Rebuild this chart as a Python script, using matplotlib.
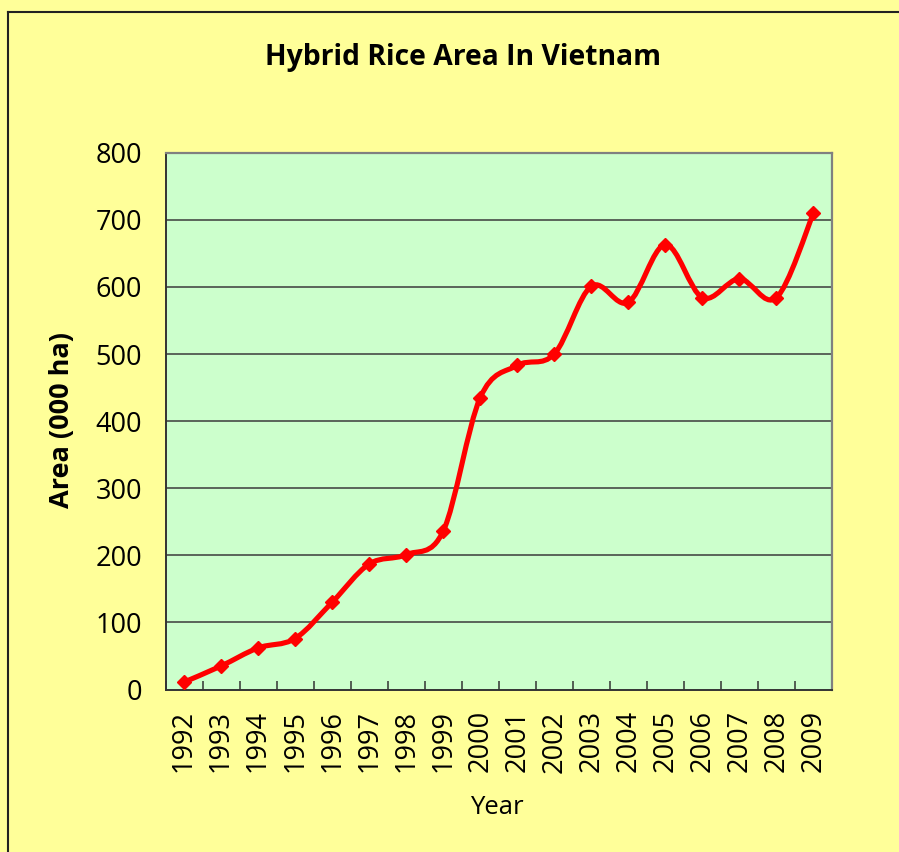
import matplotlib
matplotlib.use("Agg")
import matplotlib.pyplot as plt
from matplotlib.path import Path
from matplotlib.patches import PathPatch
from matplotlib.lines import Line2D

years = ["1992", "1993", "1994", "1995", "1996", "1997", "1998", "1999", "2000",
         "2001", "2002", "2003", "2004", "2005", "2006", "2007", "2008", "2009"]
area = [11, 35, 62, 76, 130, 187, 201, 236, 435,
        483, 500, 601, 577, 663, 584, 612, 584, 710]
yticks = [0, 100, 200, 300, 400, 500, 600, 700, 800]

title = "Hybrid Rice Area In Vietnam"
xlabel = "Year"
ylabel = "Area (000 ha)"

FONT = "Open Sans"
W, H = 899, 852
fig = plt.figure(figsize=(W / 100, H / 100), dpi=100)
fig.patch.set_facecolor("#FFFF99")

ax = fig.add_axes([165.5 / W, 1 - 689.5 / H, (832 - 165.5) / W, (689.5 - 152.7) / H])
ax.set_facecolor("#CCFFCC")

n = len(area)
xs = list(range(n))

# smoothed line (Excel-style Catmull-Rom Bezier through the data points)
verts = [(xs[0], area[0])]
codes = [Path.MOVETO]
for i in range(n - 1):
    i0 = max(i - 1, 0)
    i3 = min(i + 2, n - 1)
    c1 = (xs[i] + (xs[i + 1] - xs[i0]) / 6, area[i] + (area[i + 1] - area[i0]) / 6)
    c2 = (xs[i + 1] - (xs[i3] - xs[i]) / 6, area[i + 1] - (area[i3] - area[i]) / 6)
    verts += [c1, c2, (xs[i + 1], area[i + 1])]
    codes += [Path.CURVE4, Path.CURVE4, Path.CURVE4]
patch = PathPatch(Path(verts, codes), facecolor="none", edgecolor="#FF0000",
                  lw=3.7, capstyle="round", joinstyle="round", zorder=3)
ax.add_patch(patch)
ax.plot(xs, area, linestyle="none", marker="D", markersize=7.5,
        color="#FF0000", zorder=4)

ax.set_xlim(-0.5, n - 0.5)
ax.set_ylim(0, 800)
ax.set_yticks(yticks)
ax.set_yticklabels([str(v) for v in yticks], fontsize=19.5, family=FONT)
ax.tick_params(axis="y", length=0, pad=17)
for v in yticks[1:-1]:
    ax.axhline(v, color="#3a3a3a", lw=1.1, zorder=1)

ax.set_xticks(xs)
ax.set_xticklabels(years, rotation=90, fontsize=19.5, family=FONT)
ax.tick_params(axis="x", which="major", length=0, pad=15)
ax.set_xticks([i - 0.5 for i in range(n + 1)], minor=True)
ax.tick_params(axis="x", which="minor", direction="in", length=6.5, width=1.1,
               color="#333333")

for s in ["left", "bottom"]:
    ax.spines[s].set_color("#333333")
    ax.spines[s].set_linewidth(1.4)
for s in ["top", "right"]:
    ax.spines[s].set_color("#808080")
    ax.spines[s].set_linewidth(1.6)

fig.text(463 / W, 1 - 57 / H, title, ha="center", va="center",
         fontsize=20.3, fontweight="bold", family=FONT)
fig.text(62 / W, 1 - 420 / H, ylabel, ha="center", va="center", rotation=90,
         fontsize=19.5, fontweight="bold", family=FONT)
fig.text(497 / W, 1 - 808 / H, xlabel, ha="center", va="center",
         fontsize=18.5, family=FONT)

# figure frame: only left and top edges are visible in the reference
fx = 8 / W
fy = 1 - 12 / H
fig.add_artist(Line2D([fx, fx], [0, fy], transform=fig.transFigure,
                      color="#222222", lw=1.5))
fig.add_artist(Line2D([fx, 1], [fy, fy], transform=fig.transFigure,
                      color="#222222", lw=1.5))

fig.savefig("out.png", dpi=100, facecolor=fig.get_facecolor())
